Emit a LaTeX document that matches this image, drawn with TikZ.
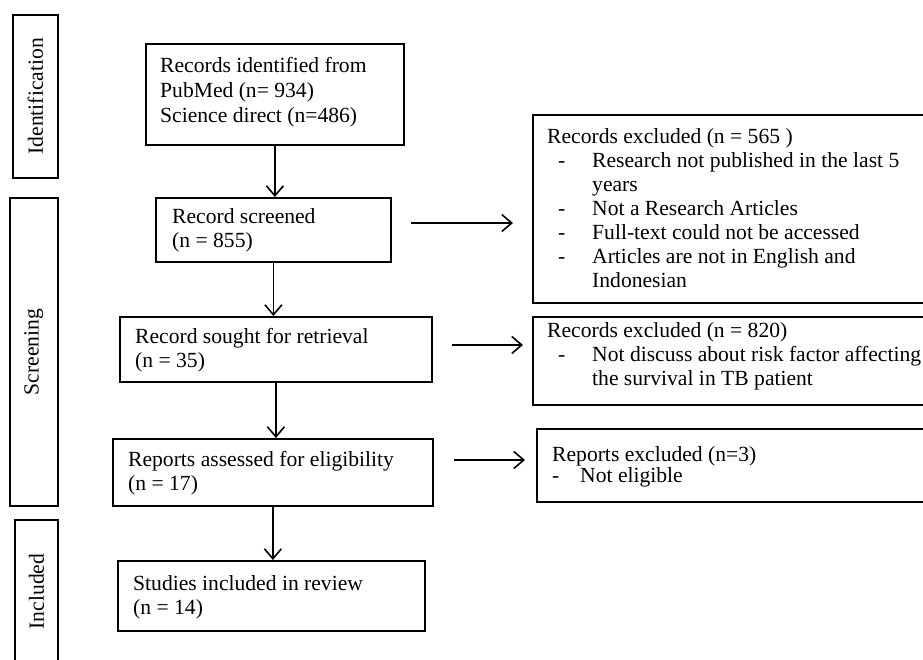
\documentclass[tikz,border=0pt]{standalone}
\usepackage{fontspec}
\setmainfont{Liberation Serif}
\usetikzlibrary{arrows.meta,calc}
\begin{document}
\begin{tikzpicture}[x=1pt,y=-1pt,
  box/.style={draw, line width=1.8pt, rectangle, inner sep=0pt, anchor=north west},
  txt/.style={anchor=base west, align=left, inner sep=0pt, font=\fontsize{21.6}{24}\selectfont},
  arr/.style={line width=1.8pt, -{Straight Barb[length=10pt,width=17pt,line width=1.6pt]}},
  vlab/.style={rotate=90, inner sep=0pt, font=\fontsize{21.6}{25}\selectfont}]
\useasboundingbox (0,0) rectangle (923,659);
\clip (0,0) rectangle (923,659);
% phase boxes
\node[box, minimum width=45pt, minimum height=163pt] (L1) at (12,14) {};
\node[box, minimum width=48pt, minimum height=308pt] (L2) at (9,197) {};
\node[box, minimum width=43pt, minimum height=143pt] (L3) at (14,519) {};
\node[vlab] (l1) at (L1.center) {Identification};
\node[vlab] (l2) at (L2.center) {Screening};
\node[vlab] (l3) at (L3.center) {Included};
% main boxes
\node[box, minimum width=258pt, minimum height=101pt] (b1) at (145,43) {};
\node[box, minimum width=235pt, minimum height=64pt] (b2) at (155,197) {};
\node[box, minimum width=312pt, minimum height=65pt] (b3) at (119,316) {};
\node[box, minimum width=320pt, minimum height=67pt] (b4) at (112,438) {};
\node[box, minimum width=307pt, minimum height=70pt] (b5) at (117,560) {};
\node[txt, font=\fontsize{21.6}{25}\selectfont] (t1) at (160,122) {Records identified from\\PubMed (n= 934)\\Science direct (n=486)};
\node[txt] (t2) at (172,247) {Record screened\\(n = 855)};
\node[txt] (t3) at (135,367) {Record sought for retrieval\\(n = 35)};
\node[txt] (t4) at (128,490) {Reports assessed for eligibility\\(n = 17)};
\node[txt] (t5) at (133,614) {Studies included in review\\(n = 14)};
% exclusion boxes
\node[box, minimum width=420pt, minimum height=188pt] (e1) at (532,114) {};
\node[box, minimum width=420pt, minimum height=88pt] (e2) at (532,316) {};
\node[box, minimum width=420pt, minimum height=73pt] (e3) at (536,428) {};
\node[txt] (te1) at (547,287) {Records excluded (n = 565 )\\
\makebox[45pt][l]{\hspace*{11pt}-}Research not published in the last 5\\
\hspace*{45pt}years\\
\makebox[45pt][l]{\hspace*{11pt}-}Not a Research Articles\\
\makebox[45pt][l]{\hspace*{11pt}-}Full-text could not be accessed\\
\makebox[45pt][l]{\hspace*{11pt}-}Articles are not in English and\\
\hspace*{45pt}Indonesian};
\node[txt] (te2) at (547,385) {Records excluded (n = 820)\\
\makebox[45pt][l]{\hspace*{11pt}-}Not discuss about risk factor affecting\\
\hspace*{45pt}the survival in TB patient};
\node[txt, font=\fontsize{21.6}{21}\selectfont] (te3) at (552,482) {Reports excluded (n=3)\\
\makebox[28pt][l]{-}Not eligible};
% arrows
\draw[arr] (b1.south) -- (b1.south |- b2.north);
\draw[arr] (b2.south) -- (b2.south |- b3.north);
\draw[arr] (b3.south) -- (b3.south |- b4.north);
\draw[arr] (b4.south) -- (b4.south |- b5.north);
\coordinate (h1) at (0,223);
\coordinate (h2) at (0,345);
\coordinate (h3) at (0,460);
\draw[arr] ($(b2.east|-h1)+(19,0)$) -- ($(e1.west|-h1)+(-19,0)$);
\draw[arr] ($(b3.east|-h2)+(19,0)$) -- ($(e2.west|-h2)+(-9,0)$);
\draw[arr] ($(b4.east|-h3)+(20,0)$) -- ($(e3.west|-h3)+(-11,0)$);
\end{tikzpicture}
\end{document}
